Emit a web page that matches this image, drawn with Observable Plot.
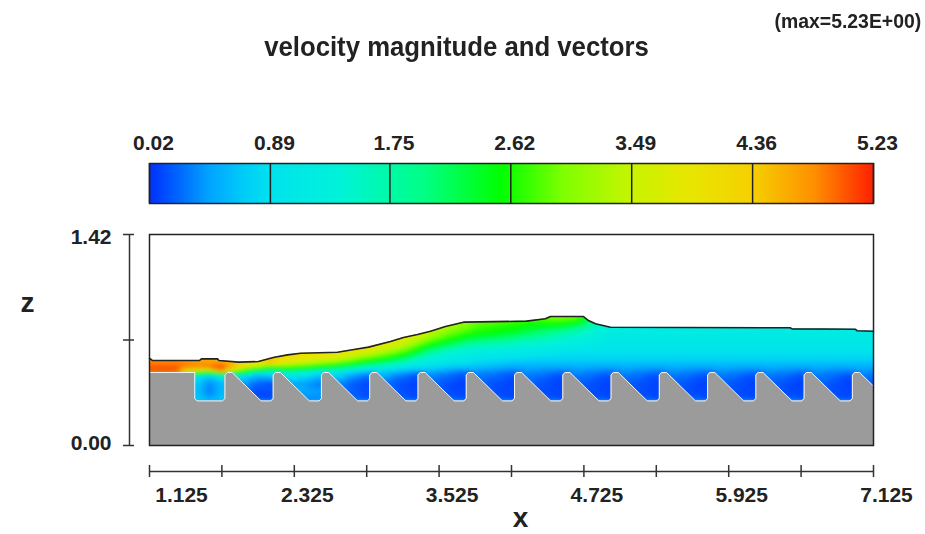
<!DOCTYPE html>
<html><head><meta charset="utf-8">
<script src="https://cdn.jsdelivr.net/npm/d3@7"></script>
<script src="https://cdn.jsdelivr.net/npm/@observablehq/plot@0.6"></script>
<style>
html,body{margin:0;padding:0;background:#fff}
#page{position:relative;width:925px;height:534px;overflow:hidden;font-family:"Liberation Sans",sans-serif;font-weight:bold;color:#222;filter:blur(.45px)}
#head{position:relative;height:125px}
#title{position:absolute;left:0;width:913px;top:31px;text-align:center;font-size:27px;line-height:32px;transform:scaleX(.953)}
#maxv{position:absolute;right:4px;top:11px;font-size:20px;line-height:20px;transform:scaleX(.97);transform-origin:right}
svg{display:block}
</style></head><body>
<div id="page"><div id="head"><div id="title">velocity magnitude and vectors</div><div id="maxv">(max=5.23E+00)</div></div><div id="chart"></div></div>
<script>
const colorTicks = [0.02, 0.89, 1.75, 2.62, 3.49, 4.36, 5.23];
const colorStops = [0.02, 0.22, 0.45, 0.7, 0.89, 1.4, 2.0, 2.55, 3.0, 3.49, 3.9, 4.36, 4.8, 5.23];
const colorHexes = ["#0030ff","#0064ff","#00a4ff","#00ccf8","#00e2ee","#00f3d8","#00ff84","#00ff00","#80ff00","#c8f400","#e8e600","#f6d000","#ff9000","#ff2000"];
const xTicks = [1.125,1.725,2.325,2.925,3.525,4.125,4.725,5.325,5.925,6.525,7.125];
const xLabels = [2.325,3.525,4.725,5.925,7.125];
const zTicks = [0,0.71,1.42];

const bedX = [1.125,1.50,1.50,1.52,1.73,1.75,1.75,1.77,1.81,2.05,
 2.13,2.15,2.15,2.17,2.21,2.45, 2.53,2.55,2.55,2.57,2.61,2.85, 2.93,2.95,2.95,2.97,3.01,3.25,
 3.33,3.35,3.35,3.37,3.41,3.65, 3.73,3.75,3.75,3.77,3.81,4.05, 4.13,4.15,4.15,4.17,4.21,4.45,
 4.53,4.55,4.55,4.57,4.61,4.85, 4.93,4.95,4.95,4.97,5.01,5.25, 5.33,5.35,5.35,5.37,5.41,5.65,
 5.73,5.75,5.75,5.77,5.81,6.05, 6.13,6.15,6.15,6.17,6.21,6.45, 6.53,6.55,6.55,6.57,6.61,6.85,
 6.93,6.95,6.95,6.97,7.01,7.125];
const bedZ = [0.491,0.491,0.315,0.30,0.30,0.315,0.475,0.491,0.491,0.30,
 0.30,0.315,0.475,0.491,0.491,0.30, 0.30,0.315,0.475,0.491,0.491,0.30, 0.30,0.315,0.475,0.491,0.491,0.30,
 0.30,0.315,0.475,0.491,0.491,0.30, 0.30,0.315,0.475,0.491,0.491,0.30, 0.30,0.315,0.475,0.491,0.491,0.30,
 0.30,0.315,0.475,0.491,0.491,0.30, 0.30,0.315,0.475,0.491,0.491,0.30, 0.30,0.315,0.475,0.491,0.491,0.30,
 0.30,0.315,0.475,0.491,0.491,0.30, 0.30,0.315,0.475,0.491,0.491,0.30, 0.30,0.315,0.475,0.491,0.491,0.30,
 0.30,0.315,0.475,0.491,0.491,0.40];

const surfaceX = [1.125,1.133,1.15,1.54,1.556,1.689,1.70,1.863,2.028,2.12,2.161,2.269,2.377,2.683,2.807,2.94,3.122,3.23,3.346,3.454,3.578,3.727,4.249,4.407,4.448,4.722,4.763,4.821,4.945,6.437,6.45,6.976,6.99,7.125];
const surfaceZ = [0.583,0.583,0.572,0.572,0.583,0.583,0.572,0.561,0.565,0.585,0.594,0.610,0.621,0.628,0.644,0.662,0.700,0.727,0.747,0.769,0.801,0.830,0.837,0.853,0.868,0.868,0.841,0.819,0.796,0.792,0.785,0.782,0.772,0.769];

const fieldX = [1.125,1.35,1.52,1.62,1.73,1.85,2.0,
 2.13,2.25,2.40, 2.53,2.65,2.80, 2.93,3.05,3.20, 3.33,3.45,3.60, 3.73,3.85,4.00, 4.13,4.25,4.40,
 4.53,4.65,4.80, 4.93,5.05,5.20, 5.33,5.45,5.60, 5.73,5.85,6.00, 6.13,6.25,6.40, 6.53,6.65,6.80, 6.93,7.05,7.125];
const fieldZ = [0.30,0.36,0.42,0.47,0.495,0.53,0.56,0.60,0.64,0.68,0.72,0.76,0.80,0.84,0.88];
const speed030 = [.6,.6,.75,.55,.75,.4,.15, .12,.2,.3, .35,.3,.25, .15,.2,.2, .12,.2,.2, .12,.2,.2, .12,.2,.2, .12,.2,.2, .12,.2,.2, .12,.2,.2, .12,.2,.2, .12,.2,.2, .12,.2,.2, .12,.2,.2];
const speed036 = [.6,.6,.6,.3,.6,.4,.1, .12,.3,.5, .45,.3,.2, .12,.2,.15, .1,.2,.12, .1,.2,.12, .1,.2,.12, .1,.2,.12, .1,.2,.12, .1,.2,.12, .1,.2,.12, .1,.2,.12, .1,.2,.12, .1,.2,.12];
const speed042 = [.6,.6,.7,.35,.6,.6,.25, .15,.5,.45, .3,.4,.2, .1,.3,.15, .08,.25,.14, .08,.25,.14, .08,.25,.14, .08,.25,.14, .08,.25,.14, .08,.25,.14, .08,.25,.14, .08,.25,.14, .08,.25,.14, .08,.25,.14];
const speed047 = [.8,.8,1.0,.8,1.2,1.0,.6, .7,1.0,.9, .6,.8,.45, .25,.55,.3, .15,.35,.25, .14,.3,.25, .14,.3,.25, .14,.3,.25, .14,.3,.25, .14,.3,.25, .14,.3,.25, .14,.3,.25, .14,.3,.25, .14,.3,.25];
const speed050 = [5.1,5.1,3.4,3.0,4.5,2.9,1.6, 1.3,1.6,1.5, 1.2,1.1,.8, .6,.7,.55, .4,.5,.38, .28,.38,.32, .26,.38,.32, .26,.38,.32, .26,.38,.32, .26,.38,.32, .26,.38,.32, .26,.38,.32, .26,.38,.32];
const speed053 = [5.0,5.0,4.9,4.95,5.15,4.5,3.6, 3.0,3.0,2.8, 2.5,2.3,1.9, 1.5,1.4,1.1, .9,.85,.7, .66,.62,.55, .5,.52,.5, .5,.52,.5, .5,.52,.5, .5,.52,.5, .5,.52,.5, .5,.52,.5, .5,.52,.5, .5,.52,.5];
const speed056 = [4.85,4.85,4.7,4.65,4.65,4.3,4.0, 4.5,3.9,3.6, 3.4,3.2,2.8, 2.4,2.1,1.7, 1.3,1.15,1.0, .95,.8,.75, .68,.66,.66, .66,.66,.66, .66,.66,.66, .66,.66,.66, .66,.66,.66, .66,.66,.66, .66,.66,.66, .66,.66,.66];
const speed060 = [4.75,4.75,4.6,4.6,4.5,4.3,4.2, 4.4,4.1,4.0, 3.9,3.8,3.5, 3.2,2.9,2.5, 1.9,1.5,1.25, 1.15,1.05,1.0, .95,.9,.85, .82,.82,.82, .82,.82,.82, .82,.82,.82, .82,.82,.82, .82,.82,.82, .82,.82,.82, .82,.82,.82];
const speed064 = [4.5,4.5,4.5,4.5,4.4,4.3,4.2, 4.2,4.2,4.1, 4.1,4.1,4.0, 3.8,3.5,3.1, 2.6,2.0,1.6, 1.4,1.3,1.25, 1.2,1.15,1.1, 1.0,.95,.95, .95,.95,.95, .95,.95,.95, .95,.95,.95, .95,.95,.95, .95,.95,.95, .95,.95,.95];
const speed068 = [4.5,4.5,4.5,4.5,4.4,4.3,4.2, 4.2,4.2,4.1, 4.1,4.1,4.1, 4.0,3.8,3.5, 3.1,2.6,2.2, 1.85,1.7,1.6, 1.5,1.4,1.3, 1.25,1.2,1.15, 1.03,1.03,1.03, 1.03,1.03,1.03, 1.03,1.03,1.03, 1.03,1.03,1.03, 1.03,1.03,1.03, 1.03,1.03,1.03];
const speed072 = [4.5,4.5,4.5,4.5,4.4,4.3,4.2, 4.2,4.2,4.1, 4.1,4.1,4.1, 4.0,4.0,3.9, 3.5,3.1,2.7, 2.4,2.2,2.1, 1.95,1.8,1.65, 1.5,1.35,1.25, 1.1,1.1,1.1, 1.1,1.1,1.1, 1.1,1.1,1.1, 1.1,1.1,1.1, 1.1,1.1,1.1, 1.1,1.1,1.1];
const speed076 = [4.5,4.5,4.5,4.5,4.4,4.3,4.2, 4.2,4.2,4.1, 4.1,4.1,4.1, 4.0,4.0,3.9, 3.8,3.4,3.0, 2.8,2.6,2.5, 2.4,2.2,2.0, 1.8,1.6,1.35, 1.2,1.15,1.15, 1.15,1.15,1.15, 1.15,1.15,1.15, 1.15,1.15,1.15, 1.15,1.15,1.15, 1.15,1.15,1.15];
const speed080 = [4.5,4.5,4.5,4.5,4.4,4.3,4.2, 4.2,4.2,4.1, 4.1,4.1,4.1, 4.0,4.0,3.9, 3.8,3.6,3.3, 3.0,2.8,2.7, 2.6,2.5,2.4, 2.3,2.1,1.6, 1.3,1.2,1.2, 1.2,1.2,1.2, 1.2,1.2,1.2, 1.2,1.2,1.2, 1.2,1.2,1.2, 1.2,1.2,1.2];
const speed084 = [4.5,4.5,4.5,4.5,4.4,4.3,4.2, 4.2,4.2,4.1, 4.1,4.1,4.1, 4.0,4.0,3.9, 3.8,3.6,3.4, 3.2,2.95,2.85, 2.8,2.7,2.75, 2.8,2.7,2.0, 1.3,1.2,1.2, 1.2,1.2,1.2, 1.2,1.2,1.2, 1.2,1.2,1.2, 1.2,1.2,1.2, 1.2,1.2,1.2];
const speed088 = [4.5,4.5,4.5,4.5,4.4,4.3,4.2, 4.2,4.2,4.1, 4.1,4.1,4.1, 4.0,4.0,3.9, 3.8,3.6,3.4, 3.2,3.0,3.0, 3.0,3.0,3.1, 3.2,3.1,2.5, 1.3,1.2,1.2, 1.2,1.2,1.2, 1.2,1.2,1.2, 1.2,1.2,1.2, 1.2,1.2,1.2, 1.2,1.2,1.2];

const speedRows = [speed030,speed036,speed042,speed047,speed050,speed053,speed056,speed060,speed064,speed068,speed072,speed076,speed080,speed084,speed088];
const field = speedRows.flatMap((row,j)=>row.map((v,i)=>({x:fieldX[i],z:fieldZ[j],v})));
const bed = bedX.map((x,i)=>({x,z:bedZ[i]}));
const surface = surfaceX.map((x,i)=>({x,z:surfaceZ[i]}));
const color = {type:"linear",domain:colorStops,range:colorHexes};
const font = {fontFamily:"'Liberation Sans',sans-serif",fontWeight:"bold",fontSize:"21px",color:"#222",background:"#fff"};

const legendPlot = Plot.plot({
  width:925,height:97,marginLeft:149,marginRight:52,marginTop:38,marginBottom:19,
  style:font,color,
  x:{domain:[0.02,5.23]},
  y:{domain:[0,1],axis:null},
  marks:[
    Plot.raster({fill:(x,y)=>x,x1:0.02,x2:5.23,y1:0,y2:1,pixelSize:1}),
    Plot.ruleX(colorTicks,{stroke:"#222",strokeWidth:1.5}),
    Plot.frame({stroke:"#222",strokeWidth:1.5}),
    Plot.axisX({anchor:"top",ticks:colorTicks,tickSize:0,tickPadding:14,tickFormat:d3.format(".2f"),dx:4,label:null})
  ]
});

const mainPlot = Plot.plot({
  width:925,height:312,marginLeft:149,marginRight:52,marginTop:12,marginBottom:89,
  style:font,color,
  x:{domain:[1.125,7.125]},
  y:{domain:[0,1.42]},
  marks:[
    Plot.raster(field,{x:"x",y:"z",fill:"v",interpolate:"barycentric",x1:1.125,x2:7.125,y1:0,y2:1.42,pixelSize:1,blur:1.5}),
    Plot.areaY(surface,{x:"x",y1:"z",y2:1.42,fill:"#fff"}),
    Plot.areaY(bed,{x:"x",y1:0,y2:"z",fill:"#9b9b9b"}),
    Plot.line(bed,{x:"x",y:"z",stroke:"#f4f4f4",strokeWidth:1}),
    Plot.line(surface,{x:"x",y:"z",stroke:"#222",strokeWidth:1.6}),
    Plot.frame({stroke:"#222",strokeWidth:1.5}),
    Plot.ruleX([1.125],{y1:0,y2:1.42,dx:-20,stroke:"#333",strokeWidth:1.5}),
    Plot.axisY({anchor:"left",ticks:zTicks,tickSize:11,tickFormat:()=>"",dx:-15,label:null,stroke:"#333",strokeWidth:1.5}),
    Plot.text([1.42],{x:1.125,y:d=>d,dx:-38,dy:3,textAnchor:"end",text:d=>d.toFixed(2)}),
    Plot.text([0],{x:1.125,y:d=>d,dx:-38,dy:-2,textAnchor:"end",text:d=>d.toFixed(2)}),
    Plot.ruleY([0],{dy:26,stroke:"#333",strokeWidth:1.5}),
    Plot.axisX({anchor:"bottom",ticks:xTicks,tickSize:12,tickFormat:()=>"",dy:20,label:null,stroke:"#333",strokeWidth:1.5}),
    Plot.text(xLabels,{x:d=>d,y:0,dy:50,dx:13,text:d=>d.toFixed(3)}),
    Plot.text([1.125],{x:d=>d,y:0,dy:50,dx:32,text:d=>d.toFixed(3)}),
    Plot.text(["x"],{frameAnchor:"bottom",dy:81,dx:9,fontSize:28,text:d=>d}),
    Plot.text(["z"],{frameAnchor:"left",dx:-129,dy:-37,fontSize:28,text:d=>d})
  ]
});
const chart = document.getElementById("chart");
chart.appendChild(legendPlot);
chart.appendChild(mainPlot);
</script>
</body></html>
